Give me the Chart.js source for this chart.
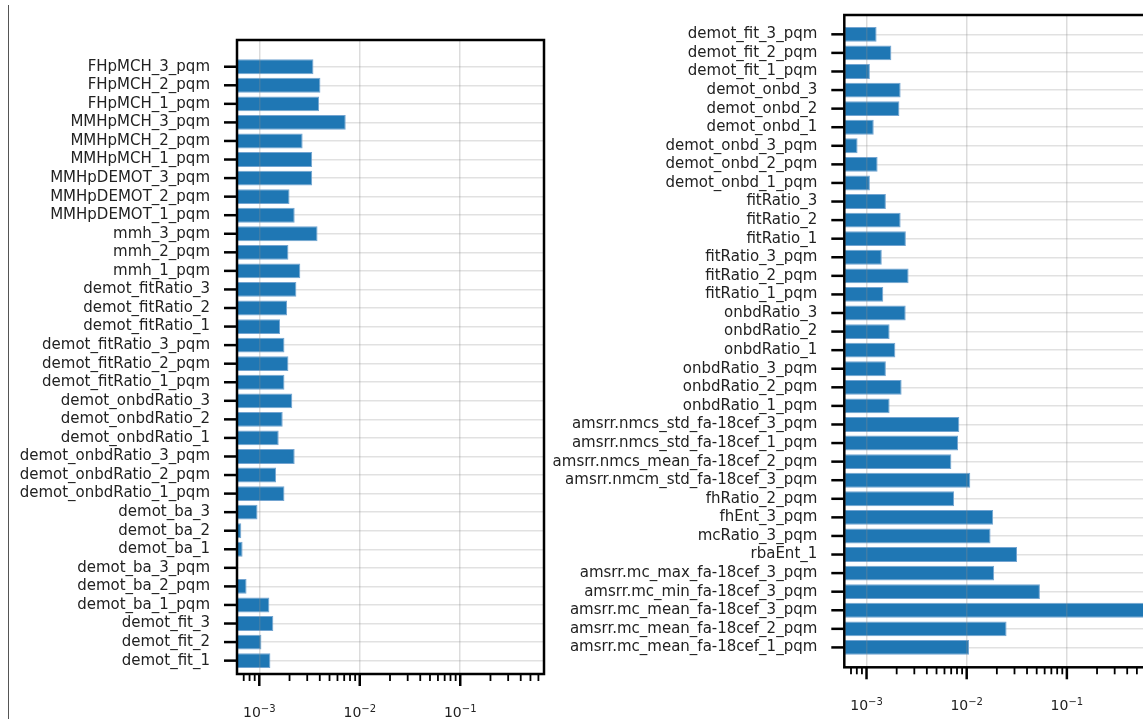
<!DOCTYPE html>
<html lang="en">
<head>
<meta charset="UTF-8">
<title>Feature importance</title>
<script src="https://cdn.jsdelivr.net/npm/chart.js@4.4.1/dist/chart.umd.min.js"></script>
<style>
    html, body { margin: 0; padding: 0; background: #fff; overflow: hidden; width: 1143px; height: 719px; }
    #edge { position: absolute; left: 8px; top: 5px; height: 714px; border-left: 1.5px solid #555; }
    #left { position: absolute; left: 0; top: 0; }
    #right { position: absolute; left: 530px; top: 0; }
</style>
</head>
<body>
<div id="edge"></div>
<canvas id="left" width="560" height="719"></canvas>
<canvas id="right" width="633" height="719"></canvas>
<script>
// features, top to bottom
const leftLabels = [
    'FHpMCH_3_pqm', 'FHpMCH_2_pqm', 'FHpMCH_1_pqm',
    'MMHpMCH_3_pqm', 'MMHpMCH_2_pqm', 'MMHpMCH_1_pqm',
    'MMHpDEMOT_3_pqm', 'MMHpDEMOT_2_pqm', 'MMHpDEMOT_1_pqm',
    'mmh_3_pqm', 'mmh_2_pqm', 'mmh_1_pqm',
    'demot_fitRatio_3', 'demot_fitRatio_2', 'demot_fitRatio_1',
    'demot_fitRatio_3_pqm', 'demot_fitRatio_2_pqm', 'demot_fitRatio_1_pqm',
    'demot_onbdRatio_3', 'demot_onbdRatio_2', 'demot_onbdRatio_1',
    'demot_onbdRatio_3_pqm', 'demot_onbdRatio_2_pqm', 'demot_onbdRatio_1_pqm',
    'demot_ba_3', 'demot_ba_2', 'demot_ba_1',
    'demot_ba_3_pqm', 'demot_ba_2_pqm', 'demot_ba_1_pqm',
    'demot_fit_3', 'demot_fit_2', 'demot_fit_1'
];
const leftValues = [
    0.00346, 0.00406, 0.00394,
    0.00725, 0.00270, 0.00336,
    0.00336, 0.00200, 0.00225,
    0.00380, 0.00195, 0.00256,
    0.00234, 0.00189, 0.00161,
    0.00178, 0.00195, 0.00178,
    0.00213, 0.00171, 0.00156,
    0.00225, 0.00147, 0.00178,
    0.00096, 0.000662, 0.000682,
    0, 0.000747, 0.00126,
    0.00138, 0.00105, 0.00129
];

const rightLabels = [
    'demot_fit_3_pqm', 'demot_fit_2_pqm', 'demot_fit_1_pqm',
    'demot_onbd_3', 'demot_onbd_2', 'demot_onbd_1',
    'demot_onbd_3_pqm', 'demot_onbd_2_pqm', 'demot_onbd_1_pqm',
    'fitRatio_3', 'fitRatio_2', 'fitRatio_1',
    'fitRatio_3_pqm', 'fitRatio_2_pqm', 'fitRatio_1_pqm',
    'onbdRatio_3', 'onbdRatio_2', 'onbdRatio_1',
    'onbdRatio_3_pqm', 'onbdRatio_2_pqm', 'onbdRatio_1_pqm',
    'amsrr.nmcs_std_fa-18cef_3_pqm', 'amsrr.nmcs_std_fa-18cef_1_pqm',
    'amsrr.nmcs_mean_fa-18cef_2_pqm', 'amsrr.nmcm_std_fa-18cef_3_pqm',
    'fhRatio_2_pqm', 'fhEnt_3_pqm', 'mcRatio_3_pqm', 'rbaEnt_1',
    'amsrr.mc_max_fa-18cef_3_pqm', 'amsrr.mc_min_fa-18cef_3_pqm',
    'amsrr.mc_mean_fa-18cef_3_pqm', 'amsrr.mc_mean_fa-18cef_2_pqm',
    'amsrr.mc_mean_fa-18cef_1_pqm'
];
const rightValues = [
    0.00126, 0.00177, 0.00108,
    0.00219, 0.00213, 0.00118,
    0.000814, 0.00129, 0.00108,
    0.00156, 0.00219, 0.00247,
    0.00142, 0.00263, 0.00147,
    0.00246, 0.00170, 0.00194,
    0.00156, 0.00224, 0.00170,
    0.00844, 0.00820,
    0.00703, 0.01086,
    0.00748, 0.01837, 0.01730, 0.0318,
    0.0188, 0.0538,
    0.62, 0.0250,
    0.01054
];

const xMin = 6.22e-4;
const xMax = 0.682;
const majorTicks = [1e-3, 1e-2, 1e-1];
const tickBase = '10';
const tickExponents = ['−3', '−2', '−1'];

// log axis ticks: 1..9 per decade, 1 is major
const xTicks = [];
for (let e = -4; e <= -1; e++) {
    for (let m = 1; m <= 9; m++) {
        const v = Number((m * Math.pow(10, e)).toPrecision(3));
        if (v > xMin && v < xMax) xTicks.push({ value: v, major: m === 1 });
    }
}

Chart.defaults.font.family = "'DejaVu Sans', sans-serif";
const FONT = "'DejaVu Sans', sans-serif";

// box around the plot, visible tick marks and the 10^n labels
// (the library's own y ticks are transparent and only space the labels)
const axesFrame = {
    id: 'axesFrame',
    afterDraw(chart) {
        const { ctx, chartArea: a } = chart;
        const { x, y } = chart.scales;
        ctx.save();
        ctx.strokeStyle = '#000';
        x.ticks.forEach(t => {
            const px = x.getPixelForValue(t.value);
            ctx.lineWidth = t.major ? 2.5 : 1.8;
            ctx.beginPath();
            ctx.moveTo(px, a.bottom);
            ctx.lineTo(px, a.bottom + (t.major ? 12 : 7));
            ctx.stroke();
        });
        ctx.lineWidth = 2.5;
        y.ticks.forEach(t => {
            const py = y.getPixelForValue(t.value);
            ctx.beginPath();
            ctx.moveTo(a.left - 13, py);
            ctx.lineTo(a.left, py);
            ctx.stroke();
        });
        ctx.strokeRect(a.left, a.top, a.right - a.left, a.bottom - a.top);

        ctx.fillStyle = '#222';
        ctx.textBaseline = 'alphabetic';
        ctx.textAlign = 'left';
        majorTicks.forEach((v, i) => {
            const px = x.getPixelForValue(v);
            ctx.font = '14px ' + FONT;
            const wb = ctx.measureText(tickBase).width;
            ctx.font = '10px ' + FONT;
            const we = ctx.measureText(tickExponents[i]).width;
            const x0 = px - (wb + we) / 2;
            ctx.font = '14px ' + FONT;
            ctx.fillText(tickBase, x0, a.bottom + 43);
            ctx.font = '10px ' + FONT;
            ctx.fillText(tickExponents[i], x0 + wb, a.bottom + 37.5);
        });
        ctx.restore();
    }
};

function makeChart(id, labels, values, box) {
    return new Chart(document.getElementById(id), {
        type: 'bar',
        data: {
            datasets: [{
                data: values.map((v, i) => ({ x: v, y: i })),
                backgroundColor: '#1f77b4',
                borderColor: '#74a5d1',
                borderWidth: 1,
                borderSkipped: false,
                barPercentage: 0.8,
                categoryPercentage: 1
            }]
        },
        options: {
            indexAxis: 'y',
            responsive: false,
            animation: false,
            layout: { padding: { top: box.top, right: box.right, left: 0, bottom: 0 } },
            plugins: { legend: { display: false }, tooltip: { enabled: false } },
            scales: {
                x: {
                    type: 'logarithmic',
                    min: xMin,
                    max: xMax,
                    afterBuildTicks: s => { s.ticks = xTicks.map(t => ({ ...t })); },
                    afterFit: s => { s.height = box.axisHeight; },
                    ticks: { display: false },
                    grid: {
                        drawTicks: false,
                        z: 1,
                        lineWidth: 1.5,
                        color: c => (c.tick && c.tick.major) ? 'rgba(140,140,140,0.3)' : 'rgba(0,0,0,0)'
                    },
                    border: { display: false }
                },
                y: {
                    type: 'linear',
                    reverse: true,
                    offset: false,
                    min: box.yMin,
                    max: box.yMax,
                    afterBuildTicks: s => { s.ticks = labels.map((_, i) => ({ value: i })); },
                    afterFit: s => { s.width = box.axisWidth; },
                    ticks: {
                        autoSkip: false,
                        padding: 0,
                        color: '#222',
                        font: { size: 15 },
                        callback: v => labels[v]
                    },
                    grid: {
                        offset: false,
                        color: 'rgba(200,200,200,0.55)',
                        lineWidth: 1.5,
                        drawTicks: true,
                        tickLength: 27,
                        tickColor: 'rgba(0,0,0,0)'
                    },
                    border: { display: false }
                }
            }
        },
        plugins: [axesFrame]
    });
}

makeChart('left', leftLabels, leftValues, {
    axisWidth: 237, axisHeight: 45, top: 40, right: 16, yMin: -1.44, yMax: 32.72
});
makeChart('right', rightLabels, rightValues, {
    axisWidth: 314.3, axisHeight: 51.7, top: 15, right: 12.6, yMin: -1.04, yMax: 34.07
});
</script>
</body>
</html>
